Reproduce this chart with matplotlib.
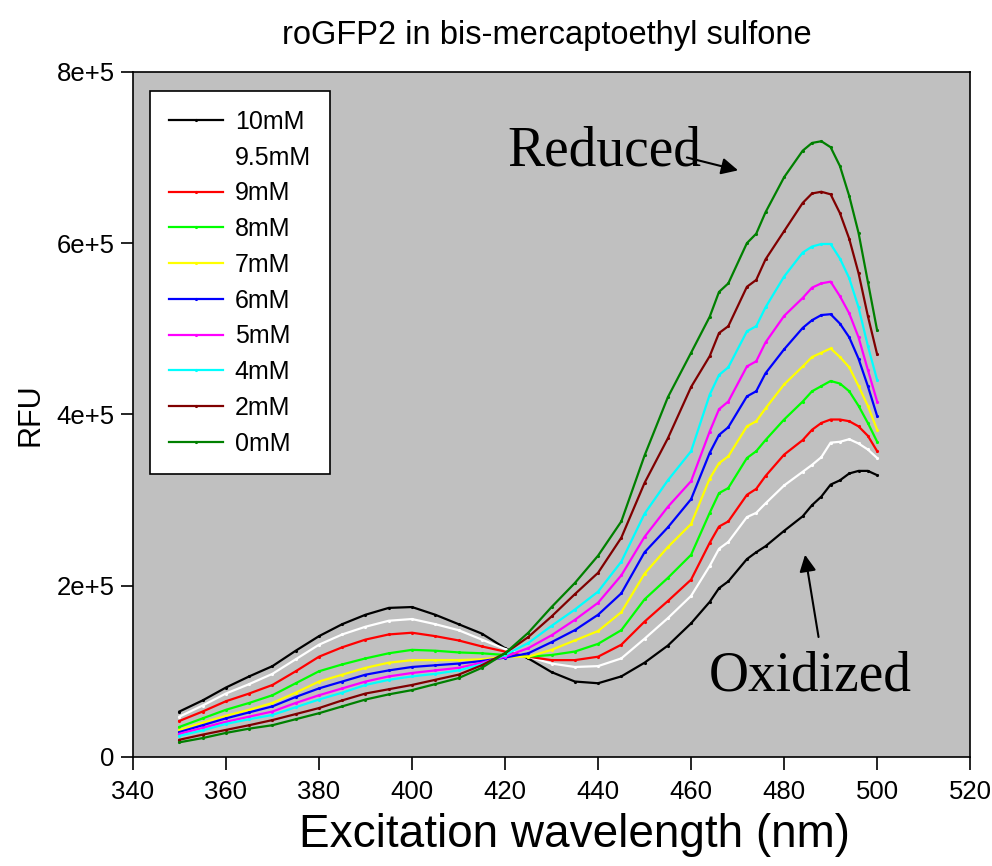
import numpy as np
import matplotlib.pyplot as plt
from matplotlib.ticker import FuncFormatter

plt.rcParams['font.family'] = ['Liberation Sans', 'DejaVu Sans']

# Excitation wavelengths (nm)
wavelength = [350, 355, 360, 365, 370, 375, 380, 385, 390, 395, 400, 405, 410, 415,
              420, 425, 430, 435, 440, 445, 450, 455, 460, 464, 466, 468, 472, 474,
              476, 480, 484, 486, 488, 490, 492, 494, 496, 498, 500]

# RFU values in thousands, one list per concentration
rfu_10 = [53, 66, 81, 94, 106, 124, 141, 155, 166, 174, 175, 166, 155, 144,
          127, 115, 99, 88, 86, 94, 110, 130, 156, 181, 197, 205, 231, 239,
          246, 264, 281, 294, 304, 318, 323, 331, 334, 334, 329]
rfu_9_5 = [47, 60, 74, 85, 97, 114, 131, 143, 152, 159, 161, 155, 148, 137,
           126, 117, 109, 105, 106, 115, 138, 162, 188, 223, 243, 251, 280, 285,
           296, 317, 333, 341, 350, 367, 368, 371, 366, 359, 349]
rfu_9 = [42, 53, 65, 74, 84, 100, 117, 128, 137, 143, 145, 141, 136, 129,
         123, 117, 113, 113, 117, 131, 158, 182, 207, 250, 269, 275, 306, 313,
         328, 353, 370, 382, 390, 394, 394, 392, 386, 375, 357]
rfu_8 = [35, 45, 55, 63, 72, 86, 100, 108, 115, 121, 125, 124, 122, 121,
         119, 117, 119, 123, 132, 148, 184, 209, 236, 285, 308, 314, 349, 357,
         370, 394, 415, 427, 433, 439, 436, 427, 410, 390, 368]
rfu_7 = [31.5, 40, 48, 55, 63, 75, 88, 96, 104, 110, 113, 113, 113, 114,
         117, 117, 125, 136, 147, 169, 214, 245, 272, 325, 343, 351, 386, 392,
         407, 435, 456, 467, 472, 477, 467, 455, 433, 410, 382]
rfu_6 = [29, 37, 45, 52, 59, 70, 80, 88, 96, 101, 105, 107, 109, 112,
         116, 121, 134, 148, 166, 191, 239, 268, 301, 355, 376, 385, 421, 427,
         448, 476, 501, 510, 516, 517, 506, 490, 465, 433, 398]
rfu_5 = [27, 34, 41, 47, 53, 63, 72, 80, 88, 94, 98, 101, 104, 110,
         117, 127, 142, 160, 180, 212, 257, 292, 322, 380, 406, 415, 456, 462,
         484, 515, 536, 548, 553, 555, 538, 518, 490, 452, 415]
rfu_4 = [24.5, 31, 38.5, 44, 49, 58, 67, 75, 84, 90, 94, 97, 101, 108,
         119, 133, 153, 172, 193, 228, 284, 323, 357, 423, 446, 455, 497, 503,
         525, 561, 589, 596, 599, 599, 582, 559, 525, 480, 440]
rfu_2 = [20, 26, 31.5, 37, 43, 50, 57, 66, 74, 79, 84, 90, 96, 107,
         121, 140, 164, 190, 215, 256, 320, 372, 432, 468, 495, 503, 549, 557,
         581, 614, 647, 658, 660, 657, 635, 605, 565, 515, 470]
rfu_0 = [17, 22, 28, 33, 37, 44, 51, 59, 67, 73, 78, 85, 92, 104,
         121, 145, 175, 203, 235, 275, 352, 420, 472, 514, 543, 553, 600, 611,
         636, 677, 708, 717, 719, 712, 690, 655, 612, 555, 498]

labels = ['10mM', '9.5mM', '9mM', '8mM', '7mM', '6mM', '5mM', '4mM', '2mM', '0mM']
colors = ['black', 'white', 'red', 'lime', 'yellow', 'blue', 'magenta', 'cyan',
          'maroon', 'green']
series = [rfu_10, rfu_9_5, rfu_9, rfu_8, rfu_7, rfu_6, rfu_5, rfu_4, rfu_2, rfu_0]

fig = plt.figure(figsize=(9.92, 8.66), dpi=100)
ax = fig.add_axes([0.134, 0.126, 0.844, 0.791])
ax.set_facecolor('#c0c0c0')

x = np.array(wavelength)
for vals, lab, col in zip(series, labels, colors):
    ax.plot(x, np.array(vals) * 1000, color=col, lw=1.6, marker='.', markersize=2.5,
            label=lab)

ax.set_xlim(340, 520)
ax.set_ylim(0, 8e5)
ax.set_xticks(np.arange(340, 521, 20))
ax.set_yticks([0, 2e5, 4e5, 6e5, 8e5])
ax.yaxis.set_major_formatter(FuncFormatter(lambda v, p: '0' if v == 0 else f'{v / 1e5:g}e+5'))
ax.tick_params(direction='out', length=9, width=1.2, labelsize=18.5)
ax.tick_params(axis='x', pad=8)
ax.tick_params(axis='y', pad=4)
for s in ax.spines.values():
    s.set_linewidth(1.2)

ax.set_xlabel('Excitation wavelength (nm)', fontsize=33)
ax.xaxis.set_label_coords(0.527, -0.114, transform=ax.transAxes)
ax.xaxis.label.set_va('center')
ax.set_ylabel('RFU', fontsize=22, labelpad=8)
ax.set_title('roGFP2 in bis-mercaptoethyl sulfone', fontsize=23.5, pad=20, x=0.494)

leg = ax.legend(loc='upper left', bbox_to_anchor=(0.0203, 0.972), fontsize=18,
                frameon=True, fancybox=False, edgecolor='black', facecolor='white',
                framealpha=1, handlelength=2.16, handletextpad=0.48, labelspacing=0.47,
                borderpad=0.75, borderaxespad=0, numpoints=1)
leg.get_frame().set_linewidth(1.2)

arrow_style = dict(arrowstyle='-|>', color='black', lw=1.5, mutation_scale=25,
                   shrinkA=0, shrinkB=0)
ax.text(420.4, 691e3, 'Reduced', fontsize=40, family='Liberation Serif',
        va='baseline', ha='left')
ax.annotate('', xy=(470.1, 685e3), xytext=(459.1, 700e3), arrowprops=arrow_style)
ax.text(463.7, 78e3, 'Oxidized', fontsize=40, family='Liberation Serif',
        va='baseline', ha='left')
ax.annotate('', xy=(484.5, 236e3), xytext=(487.4, 140e3), arrowprops=arrow_style)

fig.savefig('out.png', dpi=100)
